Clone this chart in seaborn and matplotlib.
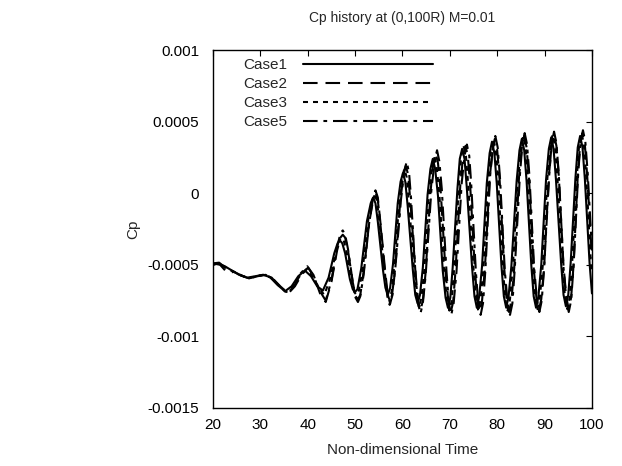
import numpy as np
import pandas as pd
import matplotlib
matplotlib.use("Agg")
import matplotlib.pyplot as plt
import seaborn as sns

# values, Cp in units of 1e-4
t_case1 = [20, 21, 22.5, 24, 25.5, 27.2, 28.9, 30.5, 32, 33.6, 35.2, 36.6, 38, 39.4, 40.7, 42, 43.2,
           44.4, 45.6, 46.3, 46.8, 47.3, 47.9, 48.9, 49.5, 50.0, 50.5, 51.3, 52.5, 53.3, 53.8, 54.3,
           54.8, 55.9, 56.4, 56.9, 57.4, 58.0, 59.0, 59.6, 60.1, 60.6, 61.1, 62.2, 62.7, 63.2, 63.7,
           64.3, 65.3, 65.9, 66.4, 66.9, 67.5, 68.5, 69.1, 69.6, 70.1, 70.6, 71.6, 72.1, 72.6, 73.1,
           73.6, 74.7, 75.2, 75.7, 76.2, 76.8, 77.8, 78.4, 78.9, 79.4, 79.9, 80.9, 81.4, 81.9, 82.4,
           83.0, 84.1, 84.7, 85.2, 85.7, 86.2, 87.2, 87.7, 88.2, 88.7, 89.3, 90.3, 90.9, 91.4, 91.9,
           92.4, 93.5, 94.0, 94.5, 95.0, 95.5, 96.5, 97.0, 97.5, 98.0, 98.5, 99.5, 100]
cp_case1 = [-5.0, -4.9, -5.1, -5.4, -5.7, -5.9, -5.8, -5.7, -5.85, -6.4, -6.85, -6.5, -5.8, -5.4, -5.8, -6.5, -6.8,
            -5.9, -4.2, -3.5, -3.3, -3.5, -4.2, -6.0, -6.7, -6.9, -6.7, -5.25, -1.95, -0.7, -0.3, -0.7,
            -2.0, -5.4, -6.6, -7.1, -6.6, -4.95, -0.7, 0.8, 1.4, 0.8, -0.9, -5.4, -7.1, -7.7, -7.1,
            -5.2, -0.1, 1.7, 2.4, 1.7, -0.2, -5.4, -7.3, -8.0, -7.3, -5.2, 0.3, 2.4, 3.1, 2.4,
            0.3, -5.2, -7.2, -8.0, -7.2, -5.1, 0.7, 2.8, 3.6, 2.8, 0.7, -5.1, -7.2, -8.0, -7.2,
            -5.05, 0.85, 3.0, 3.8, 3.0, 0.85, -5.05, -7.2, -8.0, -7.2, -5.0, 0.9, 3.1, 3.9, 3.1,
            0.95, -4.95, -7.1, -7.9, -7.1, -4.9, 1.0, 3.2, 4.0, 3.2, 1.0, -4.9, -7.0]

t_case2 = [20, 21.5, 23, 24.5, 26, 27.8, 29.4, 31.1, 32.6, 34.2, 35.9, 37.3, 38.7, 40.1, 41.4, 42.6, 43.8,
           45.0, 46.2, 46.9, 47.4, 47.9, 48.5, 49.5, 50.1, 50.6, 51.1, 51.8, 53.0, 53.8, 54.3, 54.8,
           55.3, 56.4, 56.9, 57.4, 57.9, 58.5, 59.5, 60.2, 60.7, 61.2, 61.7, 62.8, 63.3, 63.8, 64.3,
           64.9, 65.9, 66.5, 67.0, 67.5, 68.1, 69.1, 69.7, 70.2, 70.7, 71.2, 72.2, 72.8, 73.3, 73.8,
           74.3, 75.3, 75.8, 76.3, 76.8, 77.4, 78.4, 79.0, 79.5, 80.0, 80.5, 81.5, 82.0, 82.5, 83.0,
           83.6, 84.6, 85.2, 85.7, 86.2, 86.7, 87.7, 88.3, 88.8, 89.3, 89.9, 90.9, 91.5, 92.0, 92.5,
           93.0, 94.0, 94.6, 95.1, 95.6, 96.1, 97.0, 97.5, 98.0, 98.5, 99.0, 100]
cp_case2 = [-4.9, -5.0, -5.55, -5.5, -5.75, -5.95, -5.8, -5.7, -5.95, -6.5, -7.0, -6.5, -5.7, -5.2, -5.9, -7.0, -7.6,
            -6.2, -4.0, -3.1, -2.9, -3.1, -4.0, -6.2, -7.2, -7.4, -7.1, -5.5, -2.0, -0.3, 0.2, -0.3,
            -1.9, -5.6, -7.1, -7.7, -7.1, -5.1, -0.7, 1.3, 1.9, 1.3, -0.7, -5.7, -7.5, -8.2, -7.5,
            -5.5, 0.0, 2.1, 2.8, 2.1, 0.0, -5.5, -7.6, -8.3, -7.6, -5.4, 0.5, 2.6, 3.3, 2.6,
            0.5, -5.4, -7.5, -8.3, -7.5, -5.3, 1.0, 3.0, 3.8, 3.0, 1.0, -5.3, -7.5, -8.3, -7.5,
            -5.2, 1.1, 3.2, 4.0, 3.2, 1.1, -5.2, -7.4, -8.2, -7.4, -5.2, 1.2, 3.3, 4.1, 3.3,
            1.2, -5.1, -7.3, -8.1, -7.3, -5.1, 1.2, 3.4, 4.2, 3.4, 1.2, -4.5]

t_case3 = [20, 21.2, 22.7, 24.2, 25.7, 27.4, 29.1, 30.7, 32.2, 33.8, 35.5, 36.9, 38.3, 39.7, 41.0, 42.3, 43.5,
           44.7, 45.9, 46.6, 47.1, 47.6, 48.2, 49.2, 49.8, 50.3, 50.8, 51.6, 52.8, 53.6, 54.1, 54.6,
           55.1, 56.2, 56.7, 57.2, 57.7, 58.3, 59.3, 59.9, 60.4, 60.9, 61.4, 62.5, 63.0, 63.5, 64.0,
           64.6, 65.6, 66.2, 66.7, 67.2, 67.8, 68.8, 69.4, 69.9, 70.4, 70.9, 71.9, 72.4, 72.9, 73.4,
           73.9, 75.0, 75.5, 76.0, 76.5, 77.1, 78.1, 78.7, 79.2, 79.7, 80.2, 81.2, 81.7, 82.2, 82.7,
           83.3, 84.4, 85.0, 85.5, 86.0, 86.5, 87.5, 88.0, 88.5, 89.0, 89.6, 90.6, 91.2, 91.7, 92.2,
           92.7, 93.8, 94.3, 94.8, 95.3, 95.8, 96.8, 97.3, 97.8, 98.3, 98.8, 99.8, 100]
cp_case3 = [-5.0, -4.9, -5.2, -5.45, -5.7, -5.95, -5.8, -5.7, -5.9, -6.4, -6.9, -6.5, -5.8, -5.3, -5.8, -6.6, -7.1,
            -6.0, -4.2, -3.3, -3.1, -3.3, -4.1, -6.1, -6.9, -7.1, -6.8, -5.3, -1.8, -0.5, -0.1, -0.5,
            -1.9, -5.6, -6.9, -7.4, -6.9, -5.0, -0.7, 1.1, 1.7, 1.1, -0.8, -5.5, -7.3, -8.0, -7.3,
            -5.4, 0.0, 1.9, 2.6, 1.9, -0.1, -5.5, -7.5, -8.2, -7.5, -5.3, 0.5, 2.6, 3.3, 2.6,
            0.5, -5.3, -7.4, -8.2, -7.4, -5.2, 0.9, 3.0, 3.8, 3.0, 0.9, -5.2, -7.4, -8.2, -7.4,
            -5.1, 1.0, 3.2, 4.0, 3.2, 1.0, -5.1, -7.3, -8.1, -7.3, -5.1, 1.1, 3.3, 4.1, 3.3,
            1.1, -5.0, -7.3, -8.1, -7.3, -5.0, 1.1, 3.4, 4.2, 3.4, 1.1, -5.0, -5.6]

t_case5 = [20, 21.3, 23, 24.5, 26, 27.6, 29.2, 30.9, 32.4, 34, 35.7, 37.1, 38.5, 39.9, 41.2, 42.5, 43.8,
           45.0, 46.2, 46.9, 47.4, 47.9, 48.5, 49.5, 50.1, 50.6, 51.1, 51.8, 53.0, 53.8, 54.3, 54.8,
           55.3, 56.3, 56.8, 57.3, 57.8, 58.5, 59.7, 60.4, 60.9, 61.4, 61.8, 62.8, 63.3, 63.8, 64.3,
           64.9, 66.1, 66.8, 67.3, 67.8, 68.3, 69.3, 69.8, 70.3, 70.8, 71.4, 72.5, 73.1, 73.6, 74.1,
           74.5, 75.5, 76.0, 76.5, 77.0, 77.5, 78.5, 79.1, 79.6, 80.1, 80.6, 81.6, 82.2, 82.7, 83.2,
           83.7, 84.8, 85.3, 85.8, 86.3, 86.8, 87.8, 88.4, 88.9, 89.4, 89.9, 91.0, 91.5, 92.0, 92.5,
           93.0, 94.0, 94.6, 95.1, 95.6, 96.1, 97.1, 97.6, 98.1, 98.6, 99.1, 100]
cp_case5 = [-4.9, -4.85, -5.3, -5.5, -5.75, -5.95, -5.8, -5.7, -5.9, -6.5, -7.0, -6.5, -5.6, -5.1, -5.7, -6.8, -7.5,
            -6.1, -3.8, -2.8, -2.6, -2.9, -3.9, -6.2, -7.3, -7.6, -7.2, -5.7, -2.0, -0.5, 0.1, -0.5,
            -2.0, -5.6, -7.2, -7.8, -7.1, -5.2, -0.4, 1.6, 2.2, 1.4, -0.3, -5.9, -7.7, -8.4, -7.7,
            -5.7, 0.2, 2.3, 3.0, 2.2, 0.3, -5.5, -7.7, -8.5, -7.7, -5.5, 0.7, 2.6, 3.4, 2.6,
            0.7, -5.5, -7.7, -8.5, -7.7, -5.4, 1.2, 3.2, 4.0, 3.2, 1.0, -5.4, -7.7, -8.5, -7.7,
            -5.3, 1.3, 3.4, 4.2, 3.4, 1.2, -5.2, -7.5, -8.3, -7.5, -5.2, 1.4, 3.5, 4.3, 3.5,
            1.3, -5.2, -7.5, -8.3, -7.5, -5.2, 1.4, 3.6, 4.4, 3.6, 1.4, -4.0]

cases = ["Case1", "Case2", "Case3", "Case5"]
times = [t_case1, t_case2, t_case3, t_case5]
values = [cp_case1, cp_case2, cp_case3, cp_case5]

frames = []
for name, t, v in zip(cases, times, values):
    frames.append(pd.DataFrame({"Time": t, "Cp": np.array(v) * 1e-4, "Case": name}))
df = pd.concat(frames, ignore_index=True)

sns.set_theme(style="white")
plt.rcParams["font.family"] = ["Liberation Sans", "DejaVu Sans"]
fs = 11

fig = plt.figure(figsize=(6.22, 4.66), dpi=100)
ax = fig.add_axes([0.3424, 0.1245, 0.6093, 0.7682])

dash_styles = {"Case1": "", "Case2": (7, 3.8), "Case3": (2.4, 2.4), "Case5": (7, 2.8, 1.8, 2.8)}
sns.lineplot(data=df, x="Time", y="Cp", hue="Case", style="Case", dashes=dash_styles,
             palette={c: "black" for c in cases}, estimator=None, sort=False,
             linewidth=1.5, ax=ax)

ax.set_xlim(20, 100)
ax.set_ylim(-0.0015, 0.001)
ax.set_xticks(range(20, 101, 10))
ax.set_yticks([-0.0015, -0.001, -0.0005, 0, 0.0005, 0.001])
ax.set_yticklabels(["-0.0015", "-0.001", "-0.0005", "0", "0.0005", "0.001"])
ax.tick_params(axis="both", direction="in", length=4, width=0.8, top=True, right=True,
               labelsize=fs, colors="black")
ax.tick_params(axis="y", pad=10)
ax.tick_params(axis="x", pad=7)
for s in ax.spines.values():
    s.set_color("black")
    s.set_linewidth(1.0)

ax.set_xlabel("Non-dimensional Time", fontsize=fs, labelpad=8)
ax.set_ylabel("Cp", fontsize=fs, labelpad=5)
ax.set_title("Cp history at (0,100R) M=0.01", fontsize=10, pad=20)

handles, labels = ax.get_legend_handles_labels()
ax.legend(handles, labels, loc="upper left", bbox_to_anchor=(0.065, 0.994), frameon=False,
          markerfirst=False, handlelength=8.5, handletextpad=1.0, labelspacing=0.33,
          fontsize=fs, borderaxespad=0.0)

fig.savefig("out.png", dpi=100)
